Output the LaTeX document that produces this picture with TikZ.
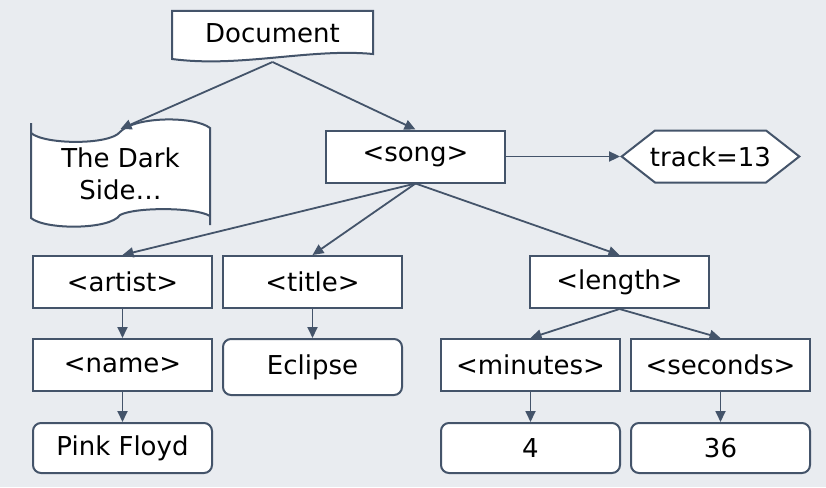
\documentclass[tikz,border=0pt]{standalone}
\usepackage{fontspec}
\setmainfont{DejaVu Sans}
\usepackage{xcolor}
\usepackage{tikz}
\usetikzlibrary{arrows.meta,shapes.symbols}
\definecolor{slateline}{RGB}{68,84,106}
\definecolor{paperbg}{RGB}{233,236,240}

\begin{document}
\begin{tikzpicture}[x=1pt,y=-1pt,
    tag/.style={draw=slateline,line width=2pt,fill=white,minimum width=179pt,minimum height=52pt,inner sep=0pt,font=\fontsize{26}{32}\selectfont},
    val/.style={tag,rounded corners=8pt},
    link/.style={draw=slateline,line width=1.8pt,-{Triangle[length=11pt,width=10pt]}}]
  \fill[paperbg] (0,0) rectangle (826,487);
  % document sheet with wavy foot
  \draw[slateline,line width=2pt,fill=white] (172,11) -- (373,11) -- (373,54)
    .. controls (310,48) and (240,68) .. (172,59) -- cycle;
  \node[tag,draw=none,fill=none,minimum width=201pt,minimum height=45pt] (doc) at (272.5,33.5) {Document};
  % scroll for the album text
  \fill[white] (31,133) .. controls (45,145) and (110,145) .. (120,132)
    .. controls (135,116) and (195,116) .. (210,128) -- (210,216)
    .. controls (195,207) and (135,207) .. (120,215)
    .. controls (110,230) and (45,230) .. (31,218) -- cycle;
  \draw[slateline,line width=2pt] (31,123) -- (31,218)
    .. controls (45,230) and (110,230) .. (120,215)
    .. controls (135,207) and (195,207) .. (210,216);
  \draw[slateline,line width=2pt] (210,225) -- (210,128)
    .. controls (195,116) and (135,116) .. (120,132)
    .. controls (110,145) and (45,145) .. (31,133);
  \node[tag,draw=none,fill=none,minimum height=88pt,align=center] (album) at (120.5,174) {The Dark\\Side…};
  \node[tag] (song) at (415.5,156.5) {<song>};
  \node[tag,signal,signal to=west and east,signal pointer angle=76,minimum width=0pt,inner xsep=-5pt] (track) at (710.5,156.5) {track=13};
  % children of song
  \node[tag] (artist) at (122.5,282) {<artist>};
  \node[tag] (title) at (312.5,282) {<title>};
  \node[tag] (length) at (619.5,282) {<length>};
  \node[tag] (name) at (122.5,365) {<name>};
  \node[val,minimum height=56pt] (eclipse) at (312.5,367) {Eclipse};
  \node[tag] (minutes) at (530.5,365) {<minutes>};
  \node[tag] (seconds) at (720.5,365) {<seconds>};
  \node[val,minimum height=50pt] (floyd) at (122.5,448) {Pink Floyd};
  \node[val,minimum height=50pt] (mins) at (530.5,448) {4};
  \node[val,minimum height=50pt] (secs) at (720.5,448) {36};
  % connectors
  \draw[link] ([yshift=-5pt]doc.south) -- (album.north);
  \draw[link] ([yshift=-5pt]doc.south) -- (song.north);
  \draw[link] (song.east) -- (track.west);
  \foreach \kid in {artist,title,length}{
    \draw[link] (song.south) -- (\kid.north);
  }
  \draw[link] (length.south) -- (minutes.north);
  \draw[link] (length.south) -- (seconds.north);
  \draw[link] (artist) -- (name);
  \draw[link] (name) -- (floyd);
  \draw[link] (title) -- (eclipse);
  \draw[link] (minutes) -- (mins);
  \draw[link] (seconds) -- (secs);
\end{tikzpicture}
\end{document}
